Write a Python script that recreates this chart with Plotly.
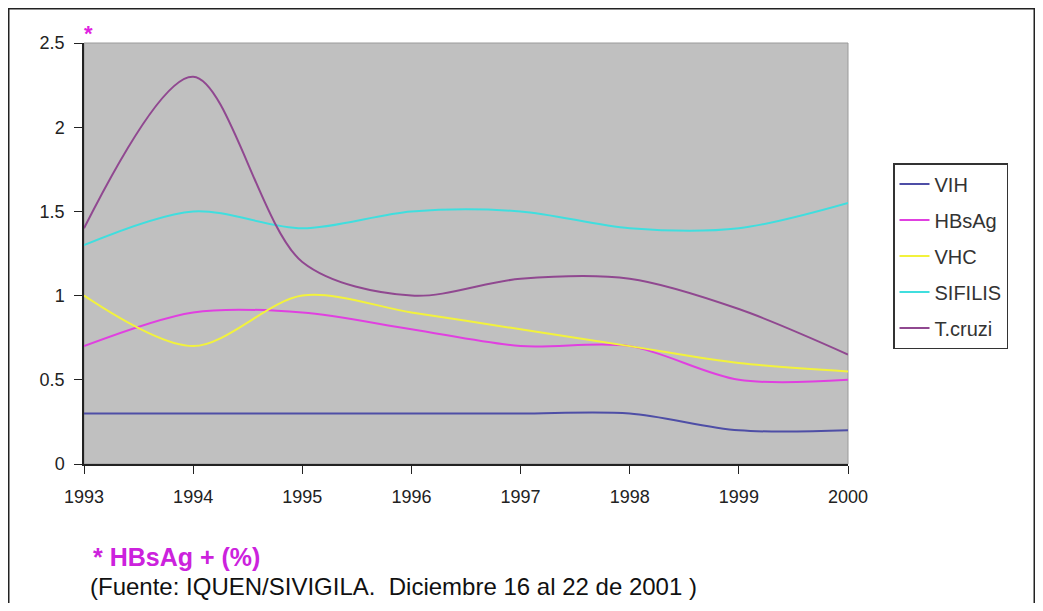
import plotly.graph_objects as go

years = [1993, 1994, 1995, 1996, 1997, 1998, 1999, 2000]
vih = [0.3, 0.3, 0.3, 0.3, 0.3, 0.3, 0.2, 0.2]
hbsag = [0.7, 0.9, 0.9, 0.8, 0.7, 0.7, 0.5, 0.5]
vhc = [1.0, 0.7, 1.0, 0.9, 0.8, 0.7, 0.6, 0.55]
sifilis = [1.3, 1.5, 1.4, 1.5, 1.5, 1.4, 1.4, 1.55]
tcruzi = [1.4, 2.3, 1.2, 1.0, 1.1, 1.1, 0.92, 0.65]
ytick_vals = [0, 0.5, 1, 1.5, 2, 2.5]
ytick_text = ["0", "0.5", "1", "1.5", "2", "2.5"]

series = [
    ("VIH", vih, "#4e4ea6"),
    ("HBsAg", hbsag, "#e040e0"),
    ("VHC", vhc, "#f2f23c"),
    ("SIFILIS", sifilis, "#40dede"),
    ("T.cruzi", tcruzi, "#904890"),
]

# figure coords (page has 8px body margin)
W, H = 1027, 595
L, T, R, B = 76, 35, 840, 456
pw, ph = R - L, B - T

def px(x):
    return (x - L) / pw

def py(y):
    return (B - y) / ph

fig = go.Figure()
for name, vals, col in series:
    fig.add_trace(go.Scatter(x=years, y=vals, name=name, mode="lines", legendgroup=name,
                             line=dict(color=col, width=2, shape="spline", smoothing=0.9)))

axis_font = dict(family="Liberation Sans, Arial", size=18, color="#222")

fig.update_layout(
    width=W, height=H,
    margin=dict(l=L, r=W - R, t=T, b=H - B),
    paper_bgcolor="white",
    plot_bgcolor="#c0c0c0",
    font=dict(family="Liberation Sans, Arial", size=18, color="#222"),
    showlegend=True,
    legend=dict(x=px(885), y=py(155), xanchor="left", yanchor="top",
                bordercolor="#333", borderwidth=1.5, bgcolor="white",
                font=dict(family="Liberation Sans, Arial", size=20, color="#333"),
                tracegroupgap=7),
    xaxis=dict(range=[1993, 2000], tickvals=years, ticktext=[str(y) for y in years],
               tickfont=axis_font, showgrid=False, zeroline=False, showline=True,
               linecolor="#222", linewidth=1.5, ticks="outside", ticklen=8,
               tickcolor="#222", ticklabelstandoff=8),
    yaxis=dict(range=[0, 2.5], tickvals=ytick_vals, ticktext=ytick_text,
               tickfont=axis_font, showgrid=False, zeroline=False, showline=True,
               linecolor="#222", linewidth=1.5, ticks="outside", ticklen=8,
               tickcolor="#222", ticklabelstandoff=6),
    shapes=[
        dict(type="rect", xref="paper", yref="paper", x0=0, x1=1, y0=0, y1=1,
             line=dict(color="#9a9a9a", width=1), layer="below"),
        dict(type="rect", xref="paper", yref="paper", x0=px(0.75), x1=px(W - 0.75),
             y0=py(H + 20), y1=py(0.75), line=dict(color="#222", width=1.5)),
    ],
    annotations=[
        dict(text="<b>*</b>", x=px(80), y=py(26), xref="paper", yref="paper",
             xanchor="center", yanchor="middle", showarrow=False,
             font=dict(family="Liberation Sans, Arial", size=22, color="#e020e0")),
        dict(text="<b>* HBsAg + (%)</b>", x=px(83), y=py(549), xref="paper", yref="paper",
             xanchor="left", yanchor="middle", showarrow=False,
             font=dict(family="Liberation Sans, Arial", size=25, color="#cc22dd")),
        dict(text="(Fuente: IQUEN/SIVIGILA.  Diciembre 16 al 22 de 2001 )", x=px(80),
             y=py(578), xref="paper", yref="paper", xanchor="left", yanchor="middle",
             showarrow=False, font=dict(family="Liberation Sans, Arial", size=24, color="#111")),
    ],
)

fig.write_html("out.html")
